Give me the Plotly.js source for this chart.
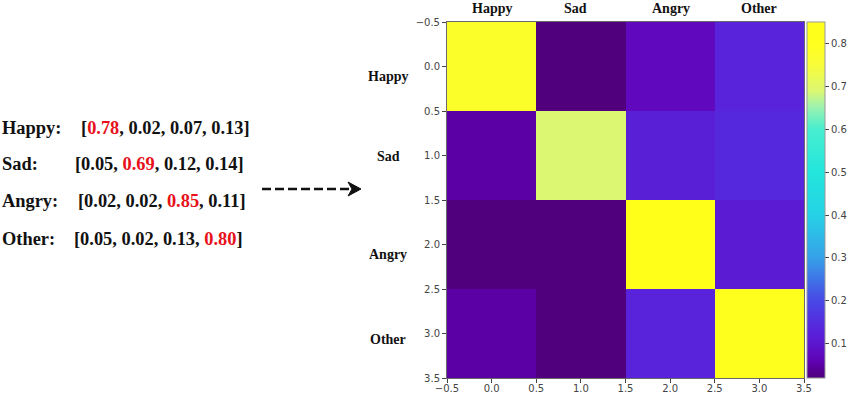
<!DOCTYPE html>
<html>
<head>
<meta charset="utf-8">
<script src="https://cdn.plot.ly/plotly-3.0.1.min.js"></script>
<style>
  html, body { margin: 0; padding: 0; background: #fff; }
  #chart { width: 850px; height: 396px; }
</style>
</head>
<body>
<div id="chart"></div>
<script>
// ---- data ----
const emotions = ["Happy", "Sad", "Angry", "Other"];
const happyRow = [0.78, 0.02, 0.07, 0.13];
const sadRow   = [0.05, 0.69, 0.12, 0.14];
const angryRow = [0.02, 0.02, 0.85, 0.11];
const otherRow = [0.05, 0.02, 0.13, 0.80];
const axisTickVals  = [-0.5, 0, 0.5, 1, 1.5, 2, 2.5, 3, 3.5];
const axisTickText  = ["\u22120.5", "0.0", "0.5", "1.0", "1.5", "2.0", "2.5", "3.0", "3.5"];
const cbarTickVals  = [0.1, 0.2, 0.3, 0.4, 0.5, 0.6, 0.7, 0.8];
const cbarTickText  = ["0.1", "0.2", "0.3", "0.4", "0.5", "0.6", "0.7", "0.8"];

const rows = [happyRow, sadRow, angryRow, otherRow];
const idx = emotions.map((_, i) => i);

// ---- geometry helpers (pixel -> paper) ----
const W = 850, H = 396;
const L = 447, R = 804, T = 22, B = 378;
const px2x = p => (p - L) / (R - L);
const py2y = p => 1 - (p - T) / (B - T);

const colorscale = [
  [0.000, '#50007c'],
  [0.036, '#5a00a4'],
  [0.060, '#5f08bd'],
  [0.110, '#5a1cd4'],
  [0.135, '#5824dc'],
  [0.217, '#4848e6'],
  [0.337, '#36a0e8'],
  [0.458, '#26d2e6'],
  [0.578, '#22e6dc'],
  [0.699, '#48eed0'],
  [0.760, '#9af2b0'],
  [0.807, '#dcf872'],
  [0.880, '#f8fc38'],
  [0.940, '#ffff1e'],
  [1.000, '#ffff1a']
];

const trace = {
  type: 'heatmap',
  z: rows,
  x: idx,
  y: idx,
  colorscale: colorscale,
  zsmooth: false,
  hoverinfo: 'none',
  colorbar: {
    x: px2x(807), xanchor: 'left', xpad: 0,
    y: 0.5, yanchor: 'middle', ypad: 0,
    len: 1, lenmode: 'fraction',
    thickness: 18, thicknessmode: 'pixels',
    outlinewidth: 1, outlinecolor: '#999',
    ticks: 'outside', ticklen: 4, tickwidth: 1, tickcolor: '#444',
    tickvals: cbarTickVals, ticktext: cbarTickText,
    tickfont: {family: 'DejaVu Sans', size: 10, color: '#444'}
  }
};

const serif = 'Liberation Serif';
const annotations = [];

// column labels on top
const colShift = [0, -5, 1, 0];
emotions.forEach((e, i) => {
  annotations.push({
    text: '<b>' + e + '</b>', x: i, xref: 'x', y: py2y(8), yref: 'paper',
    xanchor: 'center', yanchor: 'middle', showarrow: false, xshift: colShift[i],
    font: {family: serif, size: 14, color: '#111'}
  });
});
// row labels on left
const rowShift = [-10, -1, -10, -6];
emotions.forEach((e, i) => {
  annotations.push({
    text: '<b>' + e + '</b>', x: px2x(388), xref: 'paper', y: i, yref: 'y',
    xanchor: 'center', yanchor: 'middle', showarrow: false, yshift: rowShift[i],
    font: {family: serif, size: 14, color: '#111'}
  });
});

// left-side probability lists
const leftY = [128, 164, 201, 239];
const bracketX = [80, 74, 77, 73];
rows.forEach((r, i) => {
  annotations.push({
    text: '<b>' + emotions[i] + ':</b>', x: px2x(1), xref: 'paper', y: py2y(leftY[i]), yref: 'paper',
    xanchor: 'left', yanchor: 'middle', align: 'left', showarrow: false, borderpad: 0,
    font: {family: serif, size: 18.4, color: '#111'}
  });
  const parts = r.map((v, j) => {
    const s = v.toFixed(2);
    return j === i ? '<span style="color:#e8101a">' + s + '</span>' : s;
  });
  annotations.push({
    text: '<b>[' + parts.join(', ') + ']</b>', x: px2x(bracketX[i]), xref: 'paper',
    y: py2y(leftY[i]), yref: 'paper',
    xanchor: 'left', yanchor: 'middle', align: 'left', showarrow: false, borderpad: 0,
    font: {family: serif, size: 18.4, color: '#111'}
  });
});

// dashed arrow
const ay = py2y(189);
const shapes = [
  {type: 'line', xref: 'paper', yref: 'paper', x0: px2x(262), x1: px2x(352), y0: ay, y1: ay,
   line: {color: '#111', width: 2.5, dash: '9px,4px'}},
  {type: 'path', xref: 'paper', yref: 'paper',
   path: `M ${px2x(348)} ${py2y(182)} L ${px2x(361)} ${py2y(189)} L ${px2x(348)} ${py2y(196)} L ${px2x(352)} ${py2y(189)} Z`,
   fillcolor: '#111', line: {color: '#111', width: 1}}
];

const axisCommon = {
  tickvals: axisTickVals, ticktext: axisTickText,
  ticks: 'outside', ticklen: 4, tickwidth: 1, tickcolor: '#444',
  tickfont: {family: 'DejaVu Sans', size: 10, color: '#444'},
  showgrid: false, zeroline: false, automargin: false,
  showline: true, mirror: true, linecolor: '#6a6a6a', linewidth: 1
};

const layout = {
  width: W, height: H,
  margin: {l: L, r: W - R, t: T, b: H - B, pad: 0, autoexpand: false},
  paper_bgcolor: '#fff', plot_bgcolor: '#fff',
  xaxis: Object.assign({range: [-0.5, 3.5], ticklabelstandoff: -3}, axisCommon),
  yaxis: Object.assign({range: [3.5, -0.5]}, axisCommon),
  annotations: annotations,
  shapes: shapes,
  showlegend: false
};

Plotly.newPlot('chart', [trace], layout, {staticPlot: true, displayModeBar: false});
</script>
</body>
</html>
